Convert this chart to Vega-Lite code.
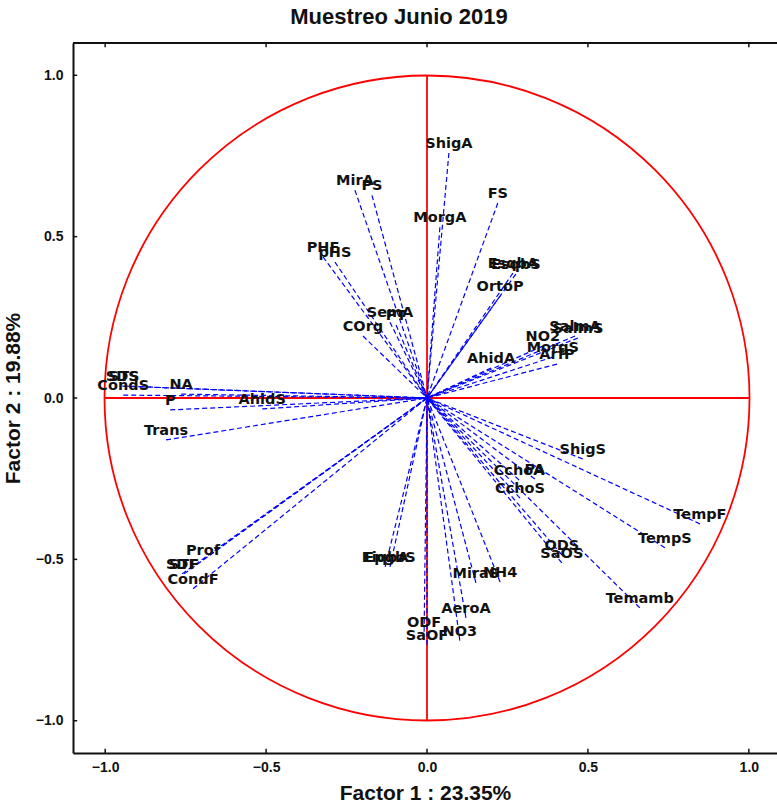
{
  "$schema": "https://vega.github.io/schema/vega-lite/v6.json",
  "width": 704,
  "height": 710,
  "autosize": {"type": "none"},
  "padding": {"left": 73, "top": 43, "right": 0, "bottom": 55},
  "background": "white",
  "config": {"view": {"stroke": null}},
  "title": {"text": "Muestreo Junio 2019", "font": "Liberation Sans", "fontSize": 22, "fontWeight": "bold", "color": "#111", "anchor": "middle", "dx": -26, "offset": 13},
  "datasets": {
    "vars": [
      {"name": "ShigA", "f1": 0.068, "f2": 0.759},
      {"name": "FS", "f1": 0.220, "f2": 0.604},
      {"name": "MorgA", "f1": 0.040, "f2": 0.529},
      {"name": "MirA", "f1": -0.224, "f2": 0.644},
      {"name": "PS", "f1": -0.171, "f2": 0.628},
      {"name": "PHF", "f1": -0.323, "f2": 0.437},
      {"name": "pHS", "f1": -0.286, "f2": 0.421},
      {"name": "SemA", "f1": -0.115, "f2": 0.235},
      {"name": "PT", "f1": -0.096, "f2": 0.226},
      {"name": "COrg", "f1": -0.199, "f2": 0.192},
      {"name": "EsqbA", "f1": 0.267, "f2": 0.387},
      {"name": "EsqbS", "f1": 0.276, "f2": 0.384},
      {"name": "OrtoP", "f1": 0.227, "f2": 0.316},
      {"name": "SalmA", "f1": 0.460, "f2": 0.192},
      {"name": "SalmS", "f1": 0.469, "f2": 0.186},
      {"name": "NO2", "f1": 0.360, "f2": 0.161},
      {"name": "MorgS", "f1": 0.391, "f2": 0.127},
      {"name": "ArfP", "f1": 0.404, "f2": 0.105},
      {"name": "AhidA", "f1": 0.199, "f2": 0.093},
      {"name": "SDS", "f1": -0.947, "f2": 0.037},
      {"name": "STS", "f1": -0.941, "f2": 0.037},
      {"name": "CondS", "f1": -0.944, "f2": 0.009},
      {"name": "NA", "f1": -0.764, "f2": 0.012},
      {"name": "P", "f1": -0.798, "f2": -0.037},
      {"name": "AhidS", "f1": -0.512, "f2": -0.034},
      {"name": "Trans", "f1": -0.811, "f2": -0.130},
      {"name": "ShigS", "f1": 0.484, "f2": -0.189},
      {"name": "CchoA", "f1": 0.286, "f2": -0.254},
      {"name": "PA", "f1": 0.335, "f2": -0.251},
      {"name": "CchoS", "f1": 0.289, "f2": -0.310},
      {"name": "TempF", "f1": 0.848, "f2": -0.390},
      {"name": "TempS", "f1": 0.739, "f2": -0.464},
      {"name": "ODS", "f1": 0.419, "f2": -0.486},
      {"name": "SaOS", "f1": 0.419, "f2": -0.511},
      {"name": "Temamb", "f1": 0.661, "f2": -0.650},
      {"name": "NH4", "f1": 0.227, "f2": -0.570},
      {"name": "MiraS", "f1": 0.152, "f2": -0.573},
      {"name": "AeroA", "f1": 0.121, "f2": -0.681},
      {"name": "NO3", "f1": 0.102, "f2": -0.752},
      {"name": "ODF", "f1": -0.009, "f2": -0.724},
      {"name": "SaOF", "f1": 0.000, "f2": -0.765},
      {"name": "EiqbA", "f1": -0.130, "f2": -0.523},
      {"name": "EpgbS", "f1": -0.115, "f2": -0.523},
      {"name": "Prof", "f1": -0.696, "f2": -0.502},
      {"name": "SDF", "f1": -0.761, "f2": -0.545},
      {"name": "STF", "f1": -0.755, "f2": -0.545},
      {"name": "CondF", "f1": -0.727, "f2": -0.591}
    ],
    "ticks": [{"t": -1.0}, {"t": -0.5}, {"t": 0.0}, {"t": 0.5}, {"t": 1.0}],
    "origin": [{"c": 0}]
  },
  "layer": [
    {
      "data": {"name": "origin"},
      "mark": {"type": "point", "shape": "circle", "filled": false, "stroke": "#ff0000", "strokeWidth": 1.8, "size": 416025, "opacity": 1},
      "encoding": {
        "x": {"field": "c", "type": "quantitative", "scale": {"domain": [-1.1, 1.0875], "nice": false, "zero": false},
          "axis": {"title": "Factor 1 : 23.35%", "values": [-1, -0.5, 0, 0.5, 1], "format": ".1f", "grid": false,
            "domainColor": "#111", "domainWidth": 2, "ticks": false,
            "labelFont": "Liberation Sans", "labelFontSize": 14, "labelFontWeight": "bold", "labelColor": "#111", "labelPadding": 7,
            "titleFont": "Liberation Sans", "titleFontSize": 21, "titleFontWeight": "bold", "titleColor": "#111", "titlePadding": 8, "labelFlush": false}},
        "y": {"field": "c", "type": "quantitative", "scale": {"domain": [-1.1, 1.1], "nice": false, "zero": false},
          "axis": {"title": "Factor 2 : 19.88%", "values": [-1, -0.5, 0, 0.5, 1], "format": ".1f", "grid": false,
            "domainColor": "#111", "domainWidth": 2, "ticks": false,
            "labelFont": "Liberation Sans", "labelFontSize": 14, "labelFontWeight": "bold", "labelColor": "#111", "labelPadding": 10,
            "titleFont": "Liberation Sans", "titleFontSize": 21, "titleFontWeight": "bold", "titleColor": "#111", "titlePadding": 12, "labelFlush": false}}
      }
    },
    {
      "data": {"name": "origin"},
      "mark": {"type": "rule", "color": "#ff0000", "strokeWidth": 1.8},
      "encoding": {"x": {"datum": -1}, "x2": {"datum": 1}, "y": {"datum": 0}}
    },
    {
      "data": {"name": "origin"},
      "mark": {"type": "rule", "color": "#ff0000", "strokeWidth": 1.8},
      "encoding": {"y": {"datum": -1}, "y2": {"datum": 1}, "x": {"datum": 0}}
    },
    {
      "data": {"name": "origin"},
      "mark": {"type": "rule", "color": "#111", "strokeWidth": 2},
      "encoding": {"x": {"datum": -1.1}, "x2": {"datum": 1.0875}, "y": {"datum": 1.1}}
    },
    {
      "data": {"name": "ticks"},
      "mark": {"type": "rule", "color": "#111", "strokeWidth": 1.5},
      "encoding": {"x": {"field": "t", "type": "quantitative"}, "y": {"datum": 1.1}, "y2": {"datum": 1.087}}
    },
    {
      "data": {"name": "ticks"},
      "mark": {"type": "rule", "color": "#111", "strokeWidth": 1.5},
      "encoding": {"x": {"field": "t", "type": "quantitative"}, "y": {"datum": -1.1}, "y2": {"datum": -1.087}}
    },
    {
      "data": {"name": "ticks"},
      "mark": {"type": "rule", "color": "#111", "strokeWidth": 1.5},
      "encoding": {"y": {"field": "t", "type": "quantitative"}, "x": {"datum": -1.1}, "x2": {"datum": -1.087}}
    },
    {
      "data": {"name": "vars"},
      "mark": {"type": "rule", "color": "#0000ff", "strokeWidth": 1.2, "strokeDash": [5, 3]},
      "encoding": {"x": {"field": "f1", "type": "quantitative"}, "y": {"field": "f2", "type": "quantitative"}, "x2": {"datum": 0}, "y2": {"datum": 0}}
    },
    {
      "data": {"name": "vars"},
      "mark": {"type": "text", "font": "DejaVu Sans", "fontSize": 14.5, "fontWeight": "bold", "color": "#111", "align": "center", "baseline": "bottom", "dy": -2},
      "encoding": {"x": {"field": "f1", "type": "quantitative"}, "y": {"field": "f2", "type": "quantitative"}, "text": {"field": "name"}}
    }
  ]
}
